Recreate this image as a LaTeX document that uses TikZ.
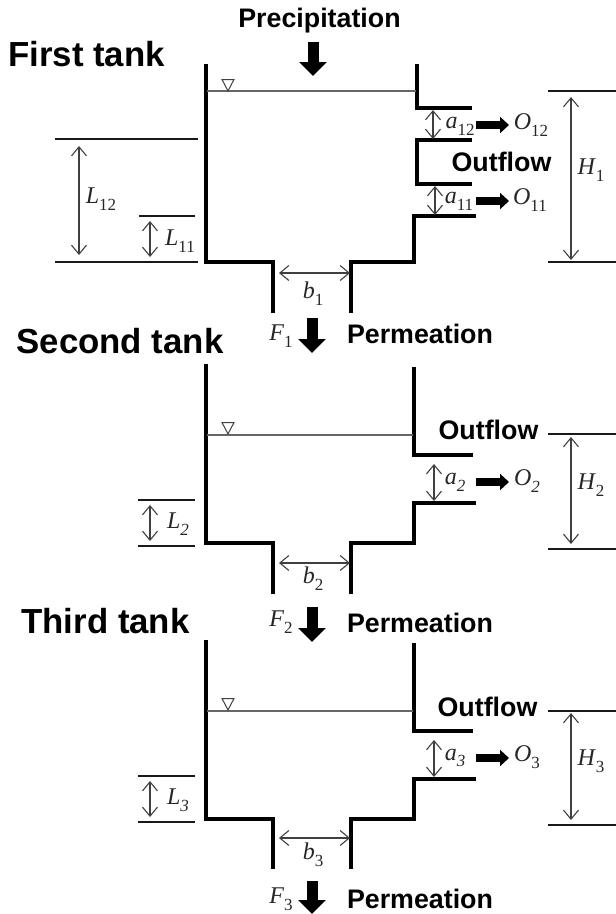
\documentclass[tikz,border=0pt]{standalone}
\usepackage{fontspec}
\setmainfont{Liberation Serif}
\newfontfamily\headfont[BoldFont={Liberation Sans Bold}]{Liberation Sans}
\usetikzlibrary{arrows.meta}
\newcommand{\lab}[2]{\textit{#1}\raisebox{-0.28em}{\fontsize{17}{17}\selectfont #2}}
\newcommand{\labi}[2]{\textit{#1\raisebox{-0.28em}{\fontsize{17}{17}\selectfont #2}}}
\tikzset{
  wall/.style={line width=3.6pt,line join=miter,line cap=butt,black},
  water/.style={line width=1.1pt,draw=black!60},
  level/.style={line width=1.7pt,black!90},
  dim/.style={line width=1.1pt,draw=black!75,{Straight Barb[length=9pt,width=15pt,line width=1.1pt]}-{Straight Barb[length=9pt,width=15pt,line width=1.1pt]}},
  fat/.style={line width=11pt,black,-{Triangle[length=14pt,width=27pt]}},
  fatside/.style={line width=8pt,black,-{Triangle[length=9pt,width=16pt]}},
  title/.style={font=\headfont\bfseries\fontsize{34.8}{35}\selectfont,inner sep=0pt},
  word/.style={font=\headfont\bfseries\fontsize{26.8}{27}\selectfont,inner sep=0pt},
  sym/.style={font=\fontsize{24}{24}\selectfont,inner sep=0pt,text=black!85},
}
\begin{document}
\begin{tikzpicture}[x=1pt,y=-1pt]
\useasboundingbox (0,0) rectangle (616,914);
% headings
\node[title] (t1) at (86.5,54) {First tank};
\node[title] (t2) at (120,341) {Second tank};
\node[title] (t3) at (105.5,621) {Third tank};
\node[word] (prec) at (319.5,21) {Precipitation};
\coordinate (pa) at (313,42); \coordinate (pb) at (313,76);
\draw[fat] (pa) -- (pb);
% ---------- tank 1
\draw[wall] (206,64) -- (206,262) -- (273,262) -- (273,313);
\draw[wall] (351,313) -- (351,262) -- (414,262) -- (414,216) -- (476,216);
\draw[wall] (417,64) -- (417,108) -- (472,108);
\draw[wall] (472,140) -- (417,140) -- (417,184) -- (472,184);
\draw[water] (207,91) -- (416,91);
\draw[line width=1pt,black!75] (222,79.500) -- (234,79.500) -- (228,91) -- cycle;
\draw[level] (548,91) -- (616,91);
\draw[level] (548,262) -- (616,262);
\coordinate (h1a) at (571,97); \coordinate (h1b) at (571,260);
\draw[dim] (h1a) -- (h1b);
\node[sym] (H1) at (591,170) {\lab{H}{1}};
\draw[level] (55,139) -- (198,139);
\draw[level] (55,262) -- (198,262);
\draw[level] (139,216) -- (195,216);
\coordinate (l12a) at (79,146); \coordinate (l12b) at (79,255);
\coordinate (l11a) at (150,221); \coordinate (l11b) at (150,257);
\draw[dim] (l12a) -- (l12b);
\draw[dim] (l11a) -- (l11b);
\node[sym] (L12) at (101,199) {\lab{L}{12}};
\node[sym] (L11) at (180,241) {\lab{L}{11}};
\coordinate (a12a) at (433,110); \coordinate (a12b) at (433,139);
\coordinate (a11a) at (435,186); \coordinate (a11b) at (435,215);
\draw[dim] (a12a) -- (a12b);
\draw[dim] (a11a) -- (a11b);
\node[sym] (a12) at (460,126) {\lab{a}{12}};
\node[sym] (a11) at (459,201) {\lab{a}{11}};
\coordinate (o12a) at (476,125); \coordinate (o12b) at (509,125);
\coordinate (o11a) at (476,201); \coordinate (o11b) at (509,201);
\draw[fatside] (o12a) -- (o12b);
\draw[fatside] (o11a) -- (o11b);
\node[sym] (O12) at (531,125) {\lab{O}{12}};
\node[sym] (O11) at (530,200) {\lab{O}{11}};
\node[word] (out1) at (501.500,162) {Outflow};
\coordinate (b1a) at (279,273); \coordinate (b1b) at (350,273);
\draw[dim] (b1a) -- (b1b);
\node[sym] (b1) at (313,294) {\lab{b}{1}};
\node[sym] (F1) at (281,336) {\lab{F}{1}};
\coordinate (f1a) at (312,318); \coordinate (f1b) at (312,353);
\draw[fat] (f1a) -- (f1b);
\node[word] (perm1) at (420,334) {Permeation};
% ---------- tank 2
\draw[wall] (206,364) -- (206,543) -- (273,543) -- (273,594);
\draw[wall] (351,594) -- (351,543) -- (414,543) -- (414,503) -- (476,503);
\draw[wall] (414,367) -- (414,455) -- (473,455);
\draw[water] (207,435) -- (413,435);
\draw[line width=1pt,black!75] (222,422.500) -- (234,422.500) -- (228,434) -- cycle;
\draw[level] (548,434) -- (616,434);
\draw[level] (548,549) -- (616,549);
\coordinate (h2a) at (571,437); \coordinate (h2b) at (571,544);
\draw[dim] (h2a) -- (h2b);
\node[sym] (H2) at (591,485) {\lab{H}{2}};
\draw[level] (138,500) -- (195,500);
\draw[level] (138,546) -- (195,546);
\coordinate (l2a) at (150,505); \coordinate (l2b) at (150,541);
\draw[dim] (l2a) -- (l2b);
\node[sym] (L2) at (178,524) {\labi{L}{2}};
\coordinate (a2a) at (434,464); \coordinate (a2b) at (434,501);
\draw[dim] (a2a) -- (a2b);
\node[sym] (a2) at (455,482) {\labi{a}{2}};
\coordinate (o2a) at (476,482); \coordinate (o2b) at (509,482);
\draw[fatside] (o2a) -- (o2b);
\node[sym] (O2) at (527,481) {\labi{O}{2}};
\node[word] (out2) at (488.500,430) {Outflow};
\coordinate (b2a) at (279,563); \coordinate (b2b) at (350,563);
\draw[dim] (b2a) -- (b2b);
\node[sym] (b2) at (313,579) {\lab{b}{2}};
\node[sym] (F2) at (281,622) {\lab{F}{2}};
\coordinate (f2a) at (312,607); \coordinate (f2b) at (312,642);
\draw[fat] (f2a) -- (f2b);
\node[word] (perm2) at (420,623) {Permeation};
% ---------- tank 3
\draw[wall] (206,640) -- (206,819) -- (273,819) -- (273,869);
\draw[wall] (351,869) -- (351,819) -- (414,819) -- (414,779) -- (476,779);
\draw[wall] (414,643) -- (414,731) -- (473,731);
\draw[water] (207,711) -- (413,711);
\draw[line width=1pt,black!75] (222,698.500) -- (234,698.500) -- (228,710) -- cycle;
\draw[level] (548,711) -- (616,711);
\draw[level] (548,825) -- (616,825);
\coordinate (h3a) at (571,713); \coordinate (h3b) at (571,820);
\draw[dim] (h3a) -- (h3b);
\node[sym] (H3) at (591,761) {\lab{H}{3}};
\draw[level] (138,776) -- (195,776);
\draw[level] (138,822) -- (195,822);
\coordinate (l3a) at (150,781); \coordinate (l3b) at (150,817);
\draw[dim] (l3a) -- (l3b);
\node[sym] (L3) at (178,800) {\labi{L}{3}};
\coordinate (a3a) at (434,740); \coordinate (a3b) at (434,777);
\draw[dim] (a3a) -- (a3b);
\node[sym] (a3) at (455,758) {\labi{a}{3}};
\coordinate (o3a) at (476,758); \coordinate (o3b) at (509,758);
\draw[fatside] (o3a) -- (o3b);
\node[sym] (O3) at (527,757) {\lab{O}{3}};
\node[word] (out3) at (487.500,707) {Outflow};
\coordinate (b3a) at (279,838); \coordinate (b3b) at (350,838);
\draw[dim] (b3a) -- (b3b);
\node[sym] (b3) at (313,855) {\lab{b}{3}};
\node[sym] (F3) at (281,899) {\lab{F}{3}};
\coordinate (f3a) at (312,881); \coordinate (f3b) at (312,914);
\draw[fat] (f3a) -- (f3b);
\node[word] (perm3) at (420,899) {Permeation};
\end{tikzpicture}
\end{document}
